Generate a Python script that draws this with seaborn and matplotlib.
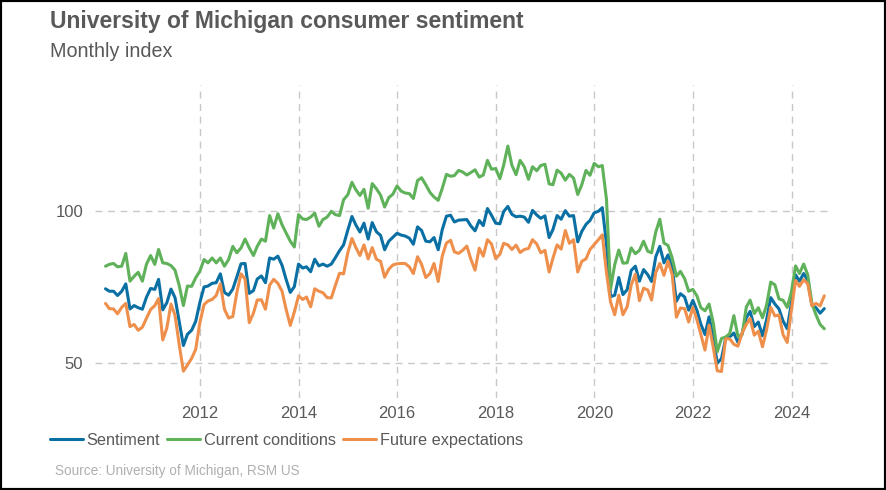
import matplotlib
matplotlib.use("Agg")
import matplotlib.pyplot as plt
import seaborn as sns
import pandas as pd
from matplotlib.patches import Rectangle
from matplotlib.lines import Line2D

# ---- data (monthly, Jan 2010 - Aug 2024) ----
start_month = "2010-01-31"
series_names = ["Sentiment", "Current conditions", "Future expectations"]
series_colors = ["#0a70a4", "#5fb15a", "#ee8f4c"]

sentiment = [
    74.4, 73.6, 73.6, 72.2, 73.6, 76.0, 67.8, 68.9, 68.2, 67.7, 71.6, 74.5,
    74.2, 77.5, 67.5, 69.8, 74.3, 71.5, 63.7, 55.8, 59.5, 60.8, 63.7, 69.9,
    75.0, 75.3, 76.2, 76.4, 79.3, 73.2, 72.3, 74.3, 78.3, 82.6, 82.7, 72.9,
    73.8, 77.6, 78.6, 76.4, 84.5, 84.1, 85.1, 82.1, 77.5, 73.2, 75.1, 82.5,
    81.2, 81.6, 80.0, 84.1, 81.9, 82.5, 81.8, 82.5, 84.6, 86.9, 88.8, 93.6,
    98.1, 95.4, 93.0, 95.9, 90.7, 96.1, 93.1, 91.9, 87.2, 90.0, 91.3, 92.6,
    92.0, 91.7, 91.0, 89.0, 94.7, 93.5, 90.0, 89.8, 91.2, 87.2, 93.8, 98.2,
    98.5, 96.3, 96.9, 97.0, 97.1, 95.0, 93.4, 96.8, 95.1, 100.7, 98.5, 95.9,
    95.7, 99.7, 101.4, 98.8, 98.0, 98.2, 97.9, 96.2, 100.1, 98.6, 97.5, 98.3,
    91.2, 93.8, 98.4, 97.2, 100.0, 98.2, 98.4, 89.8, 93.2, 95.5, 96.8, 99.3,
    99.8, 101.0, 89.1, 71.8, 72.3, 78.1, 72.5, 74.1, 80.4, 81.8, 76.9, 80.7,
    79.0, 76.8, 84.9, 88.3, 82.9, 85.5, 81.2, 70.3, 72.8, 71.7, 67.4, 70.6,
    67.2, 62.8, 59.4, 65.2, 58.4, 50.0, 51.5, 58.2, 58.6, 59.9, 56.8, 59.7,
    64.9, 67.0, 62.0, 63.5, 59.0, 64.2, 71.5, 69.4, 67.8, 63.8, 61.3, 69.7,
    79.0, 76.9, 79.4, 77.2, 69.1, 68.2, 66.4, 67.9,
]

current_conditions = [
    81.8, 82.4, 82.7, 81.6, 81.8, 86.0, 76.9, 78.5, 79.8, 76.9, 82.4, 85.3,
    82.4, 87.3, 82.9, 82.7, 82.0, 80.5, 75.5, 68.9, 75.3, 75.2, 78.0, 80.2,
    84.0, 82.9, 84.5, 82.9, 84.5, 81.8, 84.0, 88.3, 86.2, 87.8, 90.7, 87.8,
    85.3, 88.3, 90.7, 90.0, 98.4, 94.3, 99.0, 95.4, 92.7, 90.0, 88.1, 98.7,
    97.3, 97.1, 97.9, 99.2, 94.9, 97.1, 97.9, 99.8, 98.7, 98.4, 103.6, 105.2,
    109.3, 106.9, 105.0, 107.0, 100.8, 108.9, 107.2, 105.1, 101.2, 104.3, 105.4, 108.1,
    106.4, 105.8, 105.6, 104.0, 109.9, 110.8, 108.5, 106.0, 104.5, 103.4, 107.3, 111.9,
    111.3, 111.5, 113.2, 112.7, 111.7, 112.5, 113.4, 111.0, 111.7, 116.5, 113.6, 113.8,
    110.5, 114.9, 121.2, 114.9, 111.8, 116.5, 114.4, 110.3, 114.4, 113.1, 114.8, 115.2,
    108.8, 108.5, 113.3, 112.3, 110.0, 111.9, 110.7, 105.3, 108.5, 113.2, 111.6, 115.5,
    114.4, 114.8, 103.7, 74.3, 82.3, 87.1, 82.8, 82.9, 87.8, 85.9, 87.0, 90.0,
    86.7, 86.2, 93.0, 97.2, 89.4, 88.6, 84.5, 78.5, 80.1, 77.7, 73.6, 74.2,
    72.0, 68.2, 67.2, 69.4, 63.3, 53.8, 58.1, 58.6, 59.7, 65.6, 58.8, 59.4,
    68.4, 70.7, 66.3, 68.2, 64.9, 69.0, 76.6, 75.7, 71.1, 70.6, 68.3, 73.3,
    81.9, 79.4, 82.5, 79.0, 69.6, 65.9, 62.7, 61.3,
]

future_expectations = [
    69.6, 67.9, 67.8, 66.2, 68.3, 69.6, 62.0, 62.7, 60.8, 61.8, 64.7, 67.6,
    68.9, 71.2, 57.6, 61.5, 69.4, 65.7, 56.1, 47.4, 49.4, 51.6, 54.5, 63.3,
    69.2, 70.4, 70.9, 72.2, 76.0, 67.7, 64.8, 65.3, 73.2, 79.3, 77.6, 63.3,
    66.4, 70.7, 70.8, 67.7, 75.6, 77.5, 76.2, 73.6, 67.7, 62.4, 66.8, 72.1,
    70.9, 71.7, 68.5, 74.4, 73.6, 73.1, 71.5, 71.4, 75.5, 79.5, 79.3, 86.2,
    90.9, 88.0, 85.3, 88.8, 84.2, 87.9, 84.1, 83.4, 78.2, 80.8, 82.2, 82.6,
    82.7, 82.7, 81.6, 79.4, 84.9, 82.4, 78.1, 79.4, 82.7, 76.8, 85.1, 89.4,
    90.3, 86.5, 86.0, 87.0, 88.4, 84.1, 80.5, 87.7, 85.1, 90.5, 89.1, 84.3,
    85.7, 89.3, 88.8, 87.3, 88.7, 86.3, 87.3, 87.6, 90.5, 89.1, 86.2, 87.0,
    79.9, 84.4, 88.8, 87.4, 93.5, 89.3, 90.5, 79.9, 83.4, 84.2, 87.3, 88.9,
    90.5, 92.1, 79.7, 70.1, 65.9, 72.3, 65.9, 68.5, 75.6, 79.2, 70.5, 74.6,
    74.0, 70.7, 79.7, 82.7, 78.8, 83.5, 79.0, 65.1, 68.1, 67.9, 63.5, 68.3,
    64.1, 59.4, 54.3, 62.5, 55.2, 47.5, 47.3, 58.0, 58.0, 56.2, 55.6, 59.9,
    62.7, 64.7, 59.2, 60.5, 55.4, 60.9, 68.3, 65.5, 65.8, 59.3, 56.8, 67.4,
    77.1, 75.2, 77.4, 76.0, 68.8, 69.6, 68.8, 72.1,
]

y_ticks = [50, 100]
x_tick_years = [2012, 2014, 2016, 2018, 2020, 2022, 2024]

title = "University of Michigan consumer sentiment"
subtitle = "Monthly index"
source = "Source: University of Michigan, RSM US"

# ---- build long table ----
dates = pd.date_range(start_month, periods=len(sentiment), freq="ME")
frames = []
for name, vals in zip(series_names, [sentiment, current_conditions, future_expectations]):
    frames.append(pd.DataFrame({"date": dates, "value": vals, "series": name}))
df = pd.concat(frames, ignore_index=True)

sns.set_theme(style="white")
plt.rcParams["font.family"] = ["Liberation Sans", "DejaVu Sans"]

W, H = 886, 490
fig = plt.figure(figsize=(W / 100, H / 100), dpi=100)
ax = fig.add_axes([95 / W, 1 - 398 / H, (832 - 95) / W, (398 - 85) / H])

# grid
for yv in y_ticks:
    ax.axhline(yv, color="#c8c8c8", lw=1, ls=(0, (5, 4)), zorder=0)
for yr in x_tick_years:
    ax.axvline(pd.Timestamp(f"{yr}-01-01"), color="#c8c8c8", lw=1, ls=(0, (5, 4)), zorder=0)

sns.lineplot(data=df, x="date", y="value", hue="series", hue_order=series_names,
             palette=series_colors, linewidth=2.2, ax=ax, legend=False)

ax.set_xlim(pd.Timestamp("2009-11-14"), pd.Timestamp("2024-10-27"))
ax.set_ylim(38.6, 141.2)
ax.set_yticks(y_ticks)
ax.set_yticklabels([str(v) for v in y_ticks])
ax.set_xticks([pd.Timestamp(f"{yr}-01-01") for yr in x_tick_years])
ax.set_xticklabels([str(yr) for yr in x_tick_years])
ax.tick_params(axis="both", length=0, labelsize=12, labelcolor="#595959")
ax.tick_params(axis="x", pad=6)
ax.tick_params(axis="y", pad=8.6)
ax.set_xlabel("")
ax.set_ylabel("")
for s in ax.spines.values():
    s.set_visible(False)

fig.text(50 / W, 1 - 10 / H, title, fontsize=16.5, fontweight="bold", color="#595959",
         ha="left", va="top")
fig.text(50 / W, 1 - 42 / H, subtitle, fontsize=14.2, color="#595959", ha="left", va="top")

handles = [Line2D([0], [0], color=c, lw=2.2) for c in series_colors]
fig.legend(handles, series_names, loc="center left", bbox_to_anchor=(50 / W, 1 - 440 / H),
           frameon=False, ncol=3, fontsize=11.7, handlelength=2.0, handletextpad=0.25,
           columnspacing=0.45, borderpad=0, borderaxespad=0, labelcolor="#595959")

fig.text(55 / W, 1 - 471 / H, source, fontsize=9.8, color="#b0b0b0", ha="left", va="center")

fig.patches.append(Rectangle((0, 0), 1, 1, transform=fig.transFigure, fill=False,
                             edgecolor="black", lw=3, zorder=10))

fig.savefig("out.png", dpi=100)
